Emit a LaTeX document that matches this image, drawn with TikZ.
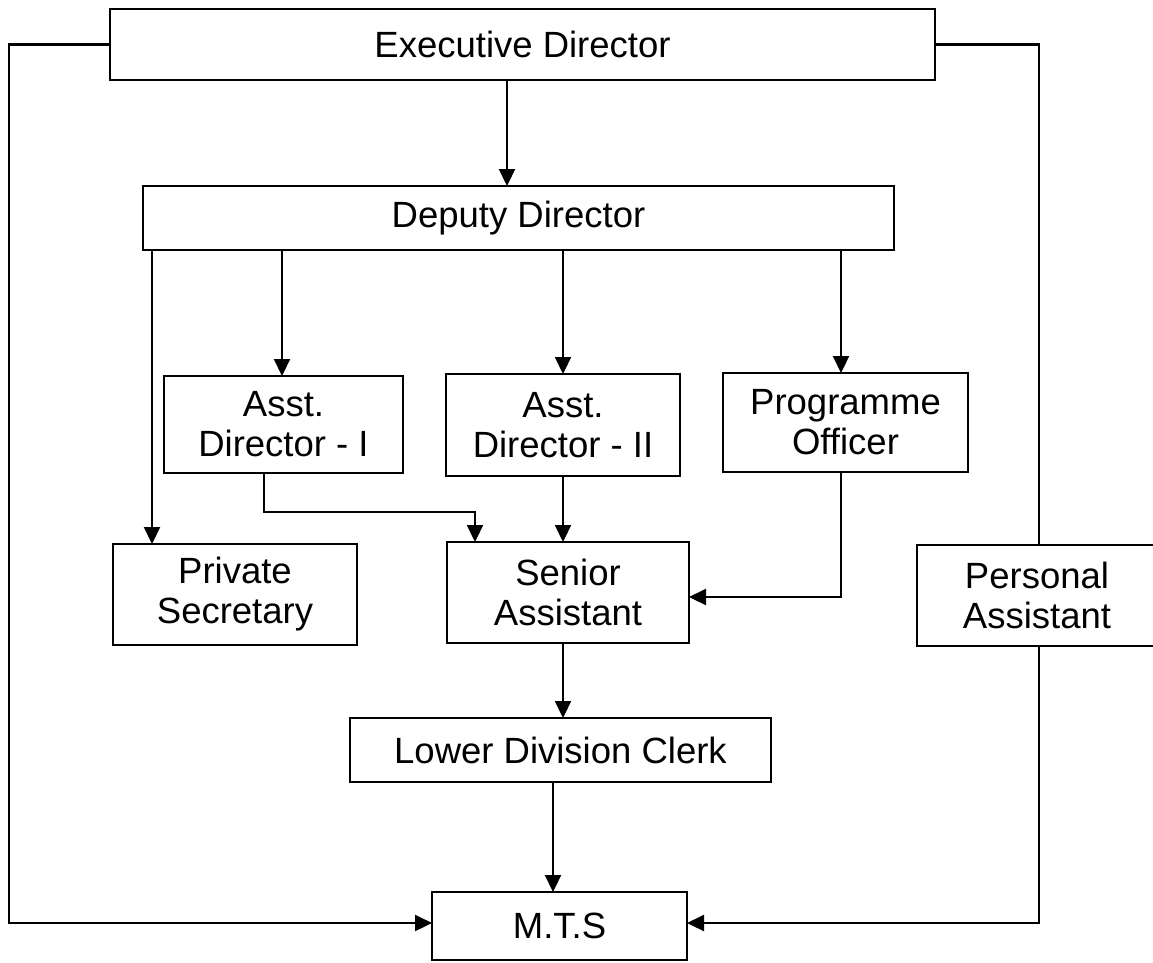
\documentclass[tikz,border=0pt]{standalone}
\usepackage{fontspec}
\setmainfont{Liberation Sans}
\usetikzlibrary{arrows.meta}
\begin{document}
\begin{tikzpicture}[x=1pt,y=-1pt,
  box/.style={draw, line width=2.6pt, inner sep=0pt, outer sep=0pt, align=center,
    font=\fontsize{36.5}{40}\selectfont},
  link/.style={line width=2.2pt},
  arr/.style={link, -{Triangle[width=16pt,length=17pt]}}]
\useasboundingbox (0,0) rectangle (1153,962);
% boxes: centre, size
\node[box, minimum width=825pt, minimum height=71pt] (exec) at (522.5,44.5) {Executive Director};
\node[box, minimum width=751pt, minimum height=64pt] (dep) at (518.5,218) {Deputy Director};
\node[box, minimum width=239pt, minimum height=97pt] (ad1) at (283.5,424.5) {Asst.\\Director - I};
\node[box, minimum width=234pt, minimum height=102pt] (ad2) at (563,425) {Asst.\\Director - II};
\node[box, minimum width=245pt, minimum height=99pt] (po) at (845.5,422.5) {Programme\\Officer};
\node[box, minimum width=244pt, minimum height=101pt] (ps) at (235,594.5) {Private\\Secretary};
\node[box, minimum width=242pt, minimum height=101pt] (sa) at (568,592.5) {Senior\\Assistant};
\node[box, minimum width=240pt, minimum height=101pt] (pa) at (1037,595.5) {Personal\\Assistant};
\node[box, minimum width=421pt, minimum height=64pt] (ldc) at (560.5,750) {Lower Division Clerk};
\node[box, minimum width=255pt, minimum height=68pt] (mts) at (559.5,926) {M.T.S};
% columns and rows
\coordinate (cA) at (507,0);
\coordinate (cPS) at (152,0);
\coordinate (cA1) at (282,0);
\coordinate (cA2) at (563,0);
\coordinate (cPO) at (841,0);
\coordinate (cB1) at (264,0);
\coordinate (cB2) at (475,0);
\coordinate (cL) at (553,0);
\coordinate (xL) at (9,0);
\coordinate (xR) at (1039,0);
\coordinate (r1) at (0,512);
\coordinate (r2) at (0,597);
\coordinate (r3) at (0,923);
% connectors
\draw[arr] (exec.south -| cA) -- (dep.north -| cA);
\draw[arr] (dep.south -| cPS) -- (ps.north -| cPS);
\draw[arr] (dep.south -| cA1) -- (ad1.north -| cA1);
\draw[arr] (dep.south -| cA2) -- (ad2.north -| cA2);
\draw[arr] (dep.south -| cPO) -- (po.north -| cPO);
\draw[arr] (ad1.south -| cB1) -- (cB1 |- r1) -- (cB2 |- r1) -- (sa.north -| cB2);
\draw[arr] (ad2.south -| cA2) -- (sa.north -| cA2);
\draw[arr] (po.south -| cPO) -- (cPO |- r2) -- (sa.east |- r2);
\draw[arr] (sa.south -| cA2) -- (ldc.north -| cA2);
\draw[arr] (ldc.south -| cL) -- (mts.north -| cL);
\draw[arr] (exec.west) -- (exec.west -| xL) -- (xL |- r3) -- (mts.west |- r3);
\draw[link] (exec.east) -- (exec.east -| xR) -- (pa.north -| xR);
\draw[arr] (pa.south -| xR) -- (xR |- r3) -- (mts.east |- r3);
\end{tikzpicture}
\end{document}
